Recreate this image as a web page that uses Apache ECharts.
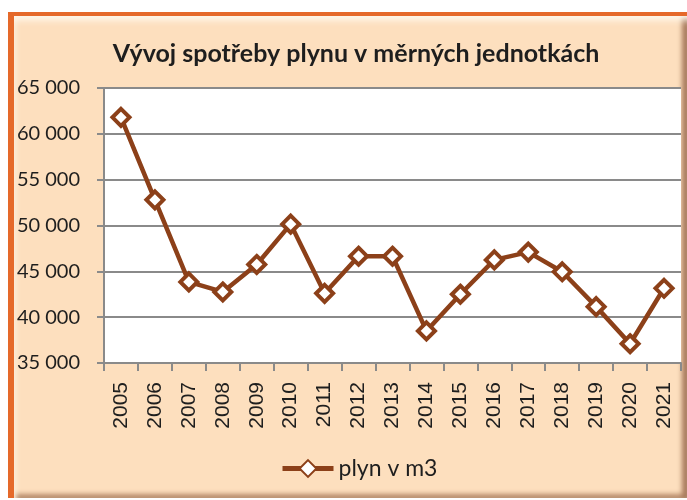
<!DOCTYPE html>
<html>
<head>
<meta charset="utf-8">
<script src="https://cdn.jsdelivr.net/npm/echarts@6/dist/echarts.min.js"></script>
<style>
  html, body { margin: 0; padding: 0; background: #fff; }
  .wrap { position: relative; width: 687px; height: 500px; overflow: hidden; }
  /* oranzovy ramecek se zkosenim jako v Excelu */
  .frame {
    position: absolute; left: 8px; top: 12px; width: 700px; height: 486px;
    border-top: 4px solid #e5692a; border-left: 6px solid #e5692a;
    box-sizing: border-box;
  }
  .panel {
    position: absolute; left: 14px; top: 16px; width: 673px; height: 482px;
    background: #fddfbe;
    box-shadow: inset 0 9px 7px -5px #fffaf0, inset 5px 0 5px -3px #fff2e0,
                inset -7px 0 5px -2px #a87a5c, inset 0 -6px 5px -2px #b88c6c;
  }
  #main { position: absolute; left: 0; top: 0; width: 687px; height: 500px; }
</style>
</head>
<body>
<div class="wrap">
  <div class="frame"></div>
  <div class="panel"></div>
  <div id="main"></div>
</div>
<script>
// roky a spotreba plynu
var years = ["2005", "2006", "2007", "2008", "2009", "2010", "2011", "2012", "2013",
  "2014", "2015", "2016", "2017", "2018", "2019", "2020", "2021"];
var plyn = [61800, 52800, 43850, 42750, 45750, 50150, 42600, 46650, 46650,
  38500, 42500, 46250, 47100, 44950, 41150, 37100, 43150];
var yTicks = [35000, 40000, 45000, 50000, 55000, 60000, 65000];

var grey = "#8a8a8a";
var brown = "#8c4019";

function fmt(v) {
  return String(v).replace(/\B(?=(\d{3})+(?!\d))/g, " ");
}

var chart = echarts.init(document.getElementById("main"));
chart.setOption({
  backgroundColor: "transparent",
  animation: false,
  title: {
    text: "Vývoj spotřeby plynu v měrných jednotkách",
    left: 351,
    textAlign: "center",
    top: 36,
    textStyle: { fontFamily: "Lato", fontWeight: "bold", fontSize: 25, color: "#1e1e1e" }
  },
  legend: {
    data: ["plyn v m3"],
    left: 275,
    top: 452,
    itemWidth: 51,
    itemHeight: 21,
    itemGap: 7,
    lineStyle: { width: 5 },
    textStyle: { fontFamily: "Lato", fontSize: 23, color: "#1e1e1e" }
  },
  grid: {
    left: 104, top: 88, right: 6, bottom: 137, containLabel: false,
    show: true, backgroundColor: "#fff", borderWidth: 0
  },
  xAxis: {
    type: "category",
    data: years,
    boundaryGap: true,
    axisLine: { lineStyle: { color: grey, width: 2 } },
    axisTick: { show: true, length: 8, lineStyle: { color: grey, width: 2 } },
    axisLabel: {
      rotate: 90, margin: 19, interval: 0,
      fontFamily: "Liberation Sans", fontSize: 21, color: "#1e1e1e"
    }
  },
  yAxis: {
    type: "value",
    min: yTicks[0],
    max: yTicks[yTicks.length - 1],
    interval: 5000,
    axisLine: { show: true, lineStyle: { color: grey, width: 2 } },
    axisTick: { show: true, length: 7, lineStyle: { color: grey, width: 2 } },
    splitLine: { lineStyle: { color: grey, width: 2 } },
    axisLabel: {
      margin: 24, formatter: fmt,
      fontFamily: "Lato", fontSize: 20, color: "#1e1e1e"
    }
  },
  series: [
    {
      name: "plyn v m3",
      type: "line",
      data: plyn,
      symbol: "diamond",
      symbolSize: 17,
      showAllSymbol: true,
      lineStyle: { color: brown, width: 4.5 },
      itemStyle: { color: "#fff", borderColor: brown, borderWidth: 4 }
    }
  ]
});
</script>
</body>
</html>
